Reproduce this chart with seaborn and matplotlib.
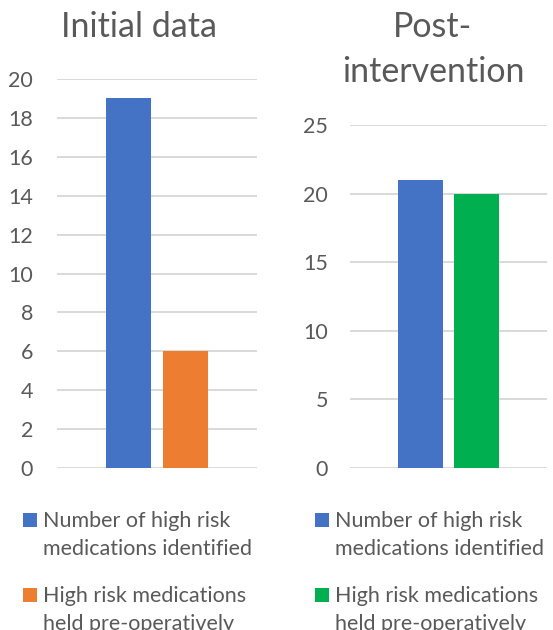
import matplotlib
matplotlib.use("Agg")
import matplotlib.pyplot as plt
from matplotlib.patches import Rectangle
import seaborn as sns
import pandas as pd

# --- data ---------------------------------------------------------------
series_names = [
    "Number of high risk medications identified",
    "High risk medications held pre-operatively",
]
legend_lines = [
    ["Number of high risk", "medications identified"],
    ["High risk medications", "held pre-operatively"],
]
initial_values = [19, 6]
post_values = [21, 20]
initial_colors = ["#4472C4", "#ED7D31"]
post_colors = ["#4472C4", "#00B050"]
panel_titles = ["Initial data", "Post-\nintervention"]
initial_ticks = [0, 2, 4, 6, 8, 10, 12, 14, 16, 18, 20]
post_ticks = [0, 5, 10, 15, 20, 25]

# --- style --------------------------------------------------------------
sns.set_theme(style="white")
plt.rcParams["font.family"] = ["Lato", "DejaVu Sans"]
TEXT = "#595959"
GRID = "#D9D9D9"

W, H = 553, 630
fig = plt.figure(figsize=(W / 100, H / 100), dpi=100)
fig.patch.set_facecolor("white")


def px_axes(x0, x1, y_top, y_bottom):
    return fig.add_axes([x0 / W, 1 - y_bottom / H, (x1 - x0) / W, (y_bottom - y_top) / H])


panels = [
    dict(values=initial_values, colors=initial_colors, ticks=initial_ticks,
         box=(57, 257, 79, 468), pad=17.3, title=panel_titles[0], title_x=139,
         leg_x=23),
    dict(values=post_values, colors=post_colors, ticks=post_ticks,
         box=(350, 547, 125, 468), pad=15.8, title=panel_titles[1], title_x=433,
         leg_x=315),
]

for p in panels:
    ax = px_axes(*p["box"])
    df = pd.DataFrame({"group": ["g"] * len(series_names),
                       "series": series_names,
                       "value": p["values"]})
    sns.barplot(data=df, x="group", y="value", hue="series",
                hue_order=series_names, palette=p["colors"], saturation=1,
                width=0.8, gap=0.21, legend=False, linewidth=0, ax=ax)
    ax.set_xlim(-0.7, 0.7)
    ax.set_ylim(p["ticks"][0], p["ticks"][-1])
    ax.set_yticks(p["ticks"])
    ax.set_xticks([])
    ax.set_xlabel("")
    ax.set_ylabel("")
    ax.set_axisbelow(True)
    ax.yaxis.grid(True, color=GRID, linewidth=1.4)
    ax.xaxis.grid(False)
    for s in ax.spines.values():
        s.set_visible(False)
    ax.tick_params(axis="y", length=0, pad=p["pad"], labelsize=15.5,
                   labelcolor=TEXT)
    ax.patch.set_alpha(0)

    # title, one line at a time
    for i, line in enumerate(p["title"].split("\n")):
        fig.text(p["title_x"] / W, 1 - (37 + 45 * i) / H, line,
                 ha="center", va="baseline", fontsize=24.5, color=TEXT)

    # legend below the plot
    for k, (lines, color) in enumerate(zip(legend_lines, p["colors"])):
        base = 527 + 75 * k
        fig.patches.append(Rectangle((p["leg_x"] / W, 1 - base / H), 14 / W, 14 / H,
                                     transform=fig.transFigure, facecolor=color,
                                     edgecolor="none"))
        for j, line in enumerate(lines):
            fig.text((p["leg_x"] + 20) / W, 1 - (base + 28 * j) / H, line,
                     ha="left", va="baseline", fontsize=15.5, color=TEXT)

fig.savefig("out.png", dpi=100)
